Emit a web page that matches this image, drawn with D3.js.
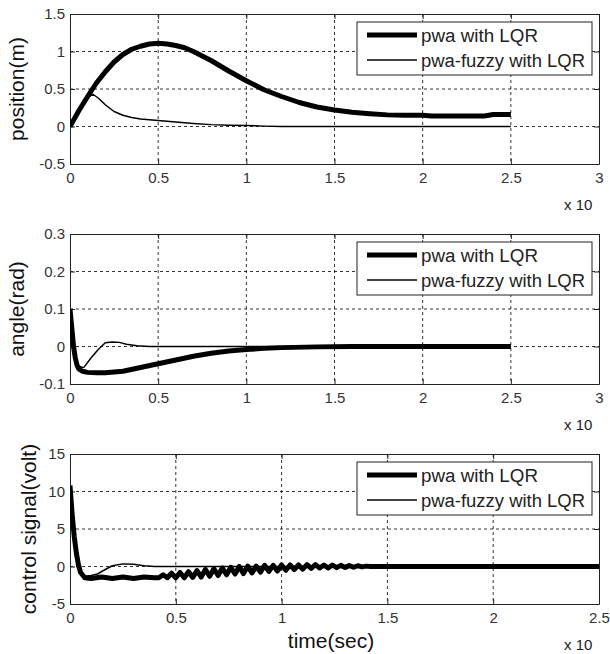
<!DOCTYPE html>
<html>
<head>
<meta charset="utf-8">
<script src="https://cdn.jsdelivr.net/npm/d3@7"></script>
<style>
  html, body { margin: 0; padding: 0; background: #fff; }
  svg { display: block; font-family: "Liberation Sans", Arial, sans-serif; }
</style>
</head>
<body>
<svg id="chart" width="610" height="654"></svg>
<script>
// ---------------- DATA ----------------
const seriesNames = ["pwa with LQR", "pwa-fuzzy with LQR"];

const xTicksA = [0, 0.5, 1, 1.5, 2, 2.5, 3];
const xTicksB = [0, 0.5, 1, 1.5, 2, 2.5];
const yTicksPos = [-0.5, 0, 0.5, 1, 1.5];
const yTicksAng = [-0.1, 0, 0.1, 0.2, 0.3];
const yTicksCtl = [-5, 0, 5, 10, 15];
const xExponentLabel = "x 10";
const xLabel = "time(sec)";
const yLabels = ["position(m)", "angle(rad)", "control signal(volt)"];

// position panel
const posPwaT = [0, 0.05, 0.1, 0.15, 0.2, 0.25, 0.3, 0.35, 0.4, 0.45, 0.5, 0.55, 0.6, 0.65, 0.7, 0.8, 0.9, 1.0, 1.1, 1.2, 1.3, 1.4, 1.5, 1.6, 1.7, 1.8, 1.9, 2.0, 2.05, 2.2, 2.35, 2.4, 2.5];
const posPwaV = [0, 0.21, 0.40, 0.58, 0.73, 0.86, 0.96, 1.03, 1.07, 1.10, 1.11, 1.10, 1.08, 1.05, 1.00, 0.88, 0.74, 0.61, 0.49, 0.40, 0.32, 0.26, 0.22, 0.19, 0.17, 0.155, 0.15, 0.15, 0.14, 0.14, 0.14, 0.16, 0.16];
const posFuzT = [0, 0.05, 0.1, 0.13, 0.16, 0.2, 0.25, 0.3, 0.35, 0.4, 0.5, 0.6, 0.7, 0.8, 0.9, 1.0, 1.1, 1.2, 2.5];
const posFuzV = [0, 0.21, 0.38, 0.43, 0.38, 0.29, 0.20, 0.15, 0.12, 0.10, 0.08, 0.06, 0.04, 0.025, 0.018, 0.013, 0.005, 0, 0];

// angle panel
const angPwaT = [0, 0.01, 0.02, 0.03, 0.04, 0.05, 0.07, 0.1, 0.15, 0.2, 0.3, 0.4, 0.5, 0.6, 0.7, 0.8, 0.9, 1.0, 1.1, 1.2, 1.4, 1.6, 2.5];
const angPwaV = [0.1, 0.05, 0.0, -0.03, -0.05, -0.06, -0.066, -0.069, -0.07, -0.07, -0.066, -0.056, -0.046, -0.036, -0.026, -0.018, -0.012, -0.008, -0.005, -0.003, -0.001, 0, 0];
const angFuzT = [0, 0.01, 0.02, 0.03, 0.04, 0.05, 0.07, 0.08, 0.12, 0.16, 0.2, 0.24, 0.28, 0.32, 0.38, 0.45, 2.5];
const angFuzV = [0.1, 0.05, 0.0, -0.03, -0.045, -0.052, -0.056, -0.055, -0.03, -0.008, 0.01, 0.012, 0.011, 0.006, 0.002, 0, 0];

// control signal panel
const ctlPwaT = [0, 0.01, 0.02, 0.03, 0.04, 0.05, 0.07, 0.1, 0.15, 0.2, 0.25, 0.3, 0.35, 0.4,
  0.42, 0.44, 0.46, 0.48, 0.50, 0.52, 0.54, 0.56, 0.58, 0.60, 0.62, 0.64, 0.66, 0.68, 0.70, 0.72,
  0.74, 0.76, 0.78, 0.80, 0.82, 0.84, 0.86, 0.88, 0.90, 0.92, 0.94, 0.96, 0.98, 1.00, 1.02, 1.04,
  1.06, 1.08, 1.10, 1.12, 1.14, 1.16, 1.18, 1.20, 1.22, 1.24, 1.26, 1.28, 1.30, 1.32, 1.34, 1.36,
  1.38, 1.40, 1.42, 2.5];
const ctlPwaV = [10.8, 7, 4, 1.8, 0.2, -0.8, -1.5, -1.6, -1.4, -1.6, -1.4, -1.6, -1.4, -1.5,
  -1.5, -1.1, -1.5, -0.9, -1.5, -0.8, -1.5, -0.7, -1.45, -0.55, -1.4, -0.4, -1.3, -0.3, -1.2, -0.2,
  -1.1, -0.1, -1.0, 0.0, -0.95, 0.05, -0.85, 0.05, -0.75, 0.15, -0.65, 0.15, -0.6, 0.2, -0.5, 0.2,
  -0.4, 0.2, -0.35, 0.25, -0.25, 0.25, -0.2, 0.2, -0.2, 0.2, -0.15, 0.15, -0.12, 0.12, -0.1, 0.1,
  -0.05, 0.05, 0, 0];
const ctlFuzT = [0, 0.01, 0.02, 0.03, 0.04, 0.05, 0.07, 0.1, 0.13, 0.16, 0.2, 0.25, 0.3, 0.35, 0.4, 2.5];
const ctlFuzV = [10.8, 7, 4, 1.8, 0.2, -0.8, -1.3, -1.2, -1.0, -0.5, 0.1, 0.35, 0.3, 0.1, 0.0, 0.0];

// ---------------- DRAW ----------------
const svg = d3.select("#chart");
const left = 70, right = 599;

const panels = [
  { top: 14, bottom: 164, xDom: [0, 3], xTicks: xTicksA, yDom: [-0.5, 1.5], yTicks: yTicksPos, ylabel: yLabels[0], labX: 24,
    series: [[posPwaT, posPwaV], [posFuzT, posFuzV]] },
  { top: 234, bottom: 384, xDom: [0, 3], xTicks: xTicksA, yDom: [-0.1, 0.3], yTicks: yTicksAng, ylabel: yLabels[1], labX: 24,
    series: [[angPwaT, angPwaV], [angFuzT, angFuzV]] },
  { top: 454, bottom: 604, xDom: [0, 2.5], xTicks: xTicksB, yDom: [-5, 15], yTicks: yTicksCtl, ylabel: yLabels[2], labX: 36,
    series: [[ctlPwaT, ctlPwaV], [ctlFuzT, ctlFuzV]] }
];

const widths = [5, 1.5];
const legendLen = [117, 164];
const fmt = d => String(d);

panels.forEach((p, pi) => {
  const x = d3.scaleLinear().domain(p.xDom).range([left, right]);
  const y = d3.scaleLinear().domain(p.yDom).range([p.bottom, p.top]);
  const g = svg.append("g");

  g.append("rect").attr("x", left).attr("y", p.top).attr("width", right - left).attr("height", p.bottom - p.top).attr("fill", "#fff");

  // grid
  const grid = g.append("g").attr("stroke", "#000").attr("stroke-width", 0.8).attr("stroke-dasharray", "3,3");
  p.xTicks.slice(1, -1).forEach(t => grid.append("line").attr("x1", x(t)).attr("x2", x(t)).attr("y1", p.top).attr("y2", p.bottom));
  p.yTicks.slice(1, -1).forEach(t => grid.append("line").attr("x1", left).attr("x2", right).attr("y1", y(t)).attr("y2", y(t)));

  // axes
  const ax = g.append("g").attr("transform", `translate(0,${p.bottom})`)
    .call(d3.axisBottom(x).tickValues(p.xTicks).tickFormat(fmt).tickSize(-5).tickSizeOuter(0).tickPadding(8));
  const ay = g.append("g").attr("transform", `translate(${left},0)`)
    .call(d3.axisLeft(y).tickValues(p.yTicks).tickFormat(fmt).tickSize(-5).tickSizeOuter(0).tickPadding(5));
  const at = g.append("g").attr("transform", `translate(0,${p.top})`)
    .call(d3.axisTop(x).tickValues(p.xTicks).tickFormat("").tickSize(-5).tickSizeOuter(0));
  const ar = g.append("g").attr("transform", `translate(${right},0)`)
    .call(d3.axisRight(y).tickValues(p.yTicks).tickFormat("").tickSize(-5).tickSizeOuter(0));
  [ax, ay, at, ar].forEach(a => {
    a.selectAll("path").attr("stroke", "#222").attr("stroke-width", 1);
    a.selectAll("line").attr("stroke", "#222");
    a.selectAll("text").attr("fill", "#333").style("font-size", "15px").style("font-family", '"Liberation Sans", Arial, sans-serif');
  });

  // series
  const clipId = "clip" + pi;
  svg.append("clipPath").attr("id", clipId).append("rect")
    .attr("x", left).attr("y", p.top).attr("width", right - left).attr("height", p.bottom - p.top);
  const line = d3.line().x(d => x(d[0])).y(d => y(d[1]));
  [1, 0].forEach(si => {
    const [ts, vs] = p.series[si];
    const pts = ts.map((t, i) => [t, vs[i]]);
    g.append("path").datum(pts).attr("d", line).attr("fill", "none")
      .attr("stroke", "#000").attr("stroke-width", widths[si])
      .attr("stroke-linejoin", "round").attr("clip-path", `url(#${clipId})`);
  });

  // legend
  const lg = g.append("g");
  lg.append("rect").attr("x", 357).attr("y", p.top + 8).attr("width", 235).attr("height", 53)
    .attr("fill", "#fff").attr("stroke", "#222").attr("stroke-width", 1);
  seriesNames.forEach((name, si) => {
    const ly = p.top + 21 + si * 25;
    lg.append("line").attr("x1", 367).attr("x2", 417).attr("y1", ly).attr("y2", ly)
      .attr("stroke", "#000").attr("stroke-width", widths[si]);
    lg.append("text").attr("x", 421).attr("y", ly + 7).text(name)
      .attr("textLength", legendLen[si]).attr("lengthAdjust", "spacingAndGlyphs")
      .attr("fill", "#222").style("font-size", "18px");
  });

  // exponent label
  g.append("text").attr("x", 564).attr("y", p.bottom + 46).text(xExponentLabel)
    .attr("fill", "#222").style("font-size", "15px");

  // y label
  g.append("text").attr("transform", `translate(${p.labX},${(p.top + p.bottom) / 2}) rotate(-90)`)
    .attr("text-anchor", "middle").text(p.ylabel).attr("fill", "#111").style("font-size", "21px");
});

// x label
svg.append("text").attr("x", 331).attr("y", 648).attr("text-anchor", "middle")
  .text(xLabel).attr("fill", "#111").style("font-size", "21px");
</script>
</body>
</html>
